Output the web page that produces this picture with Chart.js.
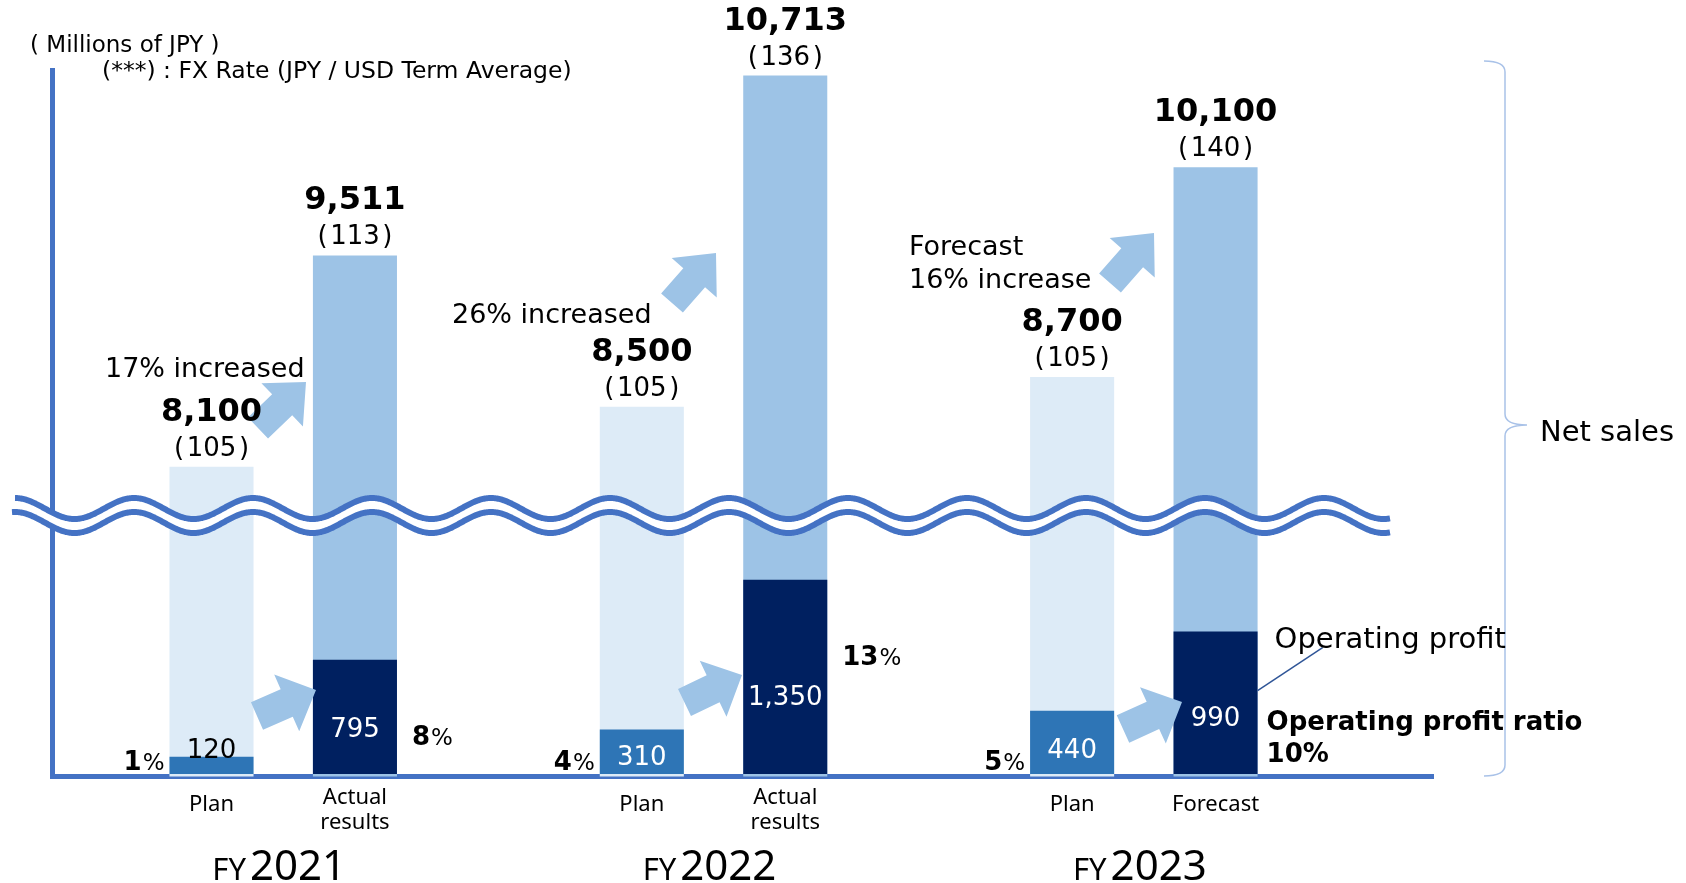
<!DOCTYPE html>
<html><head><meta charset="utf-8">
<script src="https://cdn.jsdelivr.net/npm/chart.js@4.4.1/dist/chart.umd.min.js"></script>
<style>html,body{margin:0;padding:0;background:#fff;overflow:hidden}</style>
</head><body>
<canvas id="c" width="1686" height="883"></canvas>
<script>
// ---- data ----
const fiscalYears = ['2021', '2022', '2023'];
const categories = [['Plan'], ['Actual', 'results'], ['Plan'], ['Actual', 'results'], ['Plan'], ['Forecast']];
const barYear = [0, 0, 1, 1, 2, 2];
const isPlan = [true, false, true, false, true, false];
const netSales = [8100, 9511, 8500, 10713, 8700, 10100];
const fxRate = [105, 113, 105, 136, 105, 140];
const operatingProfit = [120, 795, 310, 1350, 440, 990];
const profitRatio = [1, 8, 4, 13, 5, 10];
const growthText = [['17% increased'], ['26% increased'], ['Forecast', '16% increase']];

// ---- styles ----
const AXIS = '#4472C4';
const C_PLAN_SALES = '#DDEBF7', C_ACT_SALES = '#9DC3E6';
const C_PLAN_OP = '#2E75B6', C_ACT_OP = '#002060';
const ARROW = '#9DC3E6';
const SANS = '"DejaVu Sans", Verdana, sans-serif';
const NOTO = '"Noto Sans", sans-serif';

const xPos = netSales.map((_, i) => barYear[i] * 3 + (isPlan[i] ? 0 : 1));

function blockArrow(ctx, tx, ty, px, py, shaftW, headW, headL) {
  const dx = px - tx, dy = py - ty, L = Math.hypot(dx, dy);
  const ux = dx / L, uy = dy / L, nx = -uy, ny = ux;
  const bx = px - ux * headL, by = py - uy * headL;
  const pts = [
    [tx + nx * shaftW / 2, ty + ny * shaftW / 2],
    [bx + nx * shaftW / 2, by + ny * shaftW / 2],
    [bx + nx * headW / 2, by + ny * headW / 2],
    [px, py],
    [bx - nx * headW / 2, by - ny * headW / 2],
    [bx - nx * shaftW / 2, by - ny * shaftW / 2],
    [tx - nx * shaftW / 2, ty - ny * shaftW / 2]];
  ctx.beginPath();
  pts.forEach((p, i) => i ? ctx.lineTo(p[0], p[1]) : ctx.moveTo(p[0], p[1]));
  ctx.closePath();
  ctx.fill();
}

function wavePath(ctx, x0, x1, yc) {
  ctx.beginPath();
  for (let x = x0; x <= x1; x += 1) {
    const y = yc - 10.5 * Math.cos(2 * Math.PI * (x - 134) / 119);
    if (x === x0) ctx.moveTo(x, y); else ctx.lineTo(x, y);
  }
}

function text(ctx, s, x, y, font, color, align) {
  ctx.font = font; ctx.fillStyle = color; ctx.textAlign = align || 'center';
  ctx.textBaseline = 'alphabetic'; ctx.fillText(s, x, y);
}

function ratioLabel(ctx, n, x, y, align) {
  const f1 = 'bold 26px ' + SANS, f2 = '23px ' + SANS;
  ctx.font = f1; const w1 = ctx.measureText(String(n)).width;
  ctx.font = f2; const w2 = ctx.measureText('%').width;
  const x0 = align === 'right' ? x - w1 - w2 : x;
  text(ctx, String(n), x0, y, f1, '#000', 'left');
  text(ctx, '%', x0 + w1 + 1, y, f2, '#000', 'left');
}

const salesArrows = [[258, 428, 306, 382], [672, 303, 716, 253], [1110, 283, 1154, 233]];
const profitArrows = [[257, 716, 316, 690], [684.5, 702.5, 742, 675], [1123, 729, 1182, 702]];
const growthPos = [[105, 377], [452, 323], [909, 255]];

const decorations = {
  id: 'decorations',
  afterDraw(chart) {
    const ctx = chart.ctx, area = chart.chartArea;
    const profit = chart.getDatasetMeta(0).data, sales = chart.getDatasetMeta(1).data;
    ctx.save();
    // arrows
    ctx.fillStyle = ARROW;
    salesArrows.forEach(a => blockArrow(ctx, a[0], a[1], a[2], a[3], 29, 60, 33));
    profitArrows.forEach(a => blockArrow(ctx, a[0], a[1], a[2], a[3], 30, 62, 32));
    // axis break wave
    const yc = area.bottom - 268;
    ctx.lineCap = 'butt';
    ctx.strokeStyle = '#fff'; ctx.lineWidth = 14;
    wavePath(ctx, 13, 1390, yc + 7); ctx.stroke();
    ctx.strokeStyle = AXIS; ctx.lineWidth = 6;
    wavePath(ctx, 15, 1390, yc); ctx.stroke();
    wavePath(ctx, 12, 1390, yc + 14); ctx.stroke();
    // brace
    ctx.strokeStyle = '#A9C2E8'; ctx.lineWidth = 1.5;
    ctx.beginPath();
    ctx.moveTo(1484, 61); ctx.quadraticCurveTo(1505, 61, 1505, 72);
    ctx.lineTo(1505, 414); ctx.quadraticCurveTo(1505, 425, 1527, 425);
    ctx.quadraticCurveTo(1505, 425, 1505, 436);
    ctx.lineTo(1505, 765); ctx.quadraticCurveTo(1505, 776, 1484, 776);
    ctx.stroke();
    text(ctx, 'Net sales', 1540, 441, '29px ' + SANS, '#000', 'left');

    // header
    text(ctx, '( Millions of JPY )', 30, 52, '23px ' + SANS, '#000', 'left');
    text(ctx, '(***) : FX Rate (JPY / USD Term Average)', 102, 78, '23.5px ' + SANS, '#000', 'left');

    // per-bar labels
    sales.forEach((bar, i) => {
      const cx = bar.x, left = bar.x - bar.width / 2, right = bar.x + bar.width / 2;
      text(ctx, netSales[i].toLocaleString('en-US'), cx, bar.y - 46, 'bold 32px ' + SANS, '#000');
      text(ctx, '(\u200A' + fxRate[i] + '\u200A)', cx, bar.y - 11, '26px ' + SANS, '#000');
      const pb = profit[i], segTop = pb.y, segH = pb.base - pb.y;
      if (segH < 30) {
        text(ctx, String(operatingProfit[i]), cx, segTop + 1, '26px ' + SANS, '#000');
      } else {
        text(ctx, operatingProfit[i].toLocaleString('en-US'), cx, segTop + 0.6 * segH + 9, '26px ' + SANS, '#fff');
      }
      if (isPlan[i]) {
        ratioLabel(ctx, profitRatio[i], left - 6, pb.base - 4, 'right');
      } else if (barYear[i] < 2) {
        ratioLabel(ctx, profitRatio[i], right + 15, segTop + 85, 'left');
      } else {
        text(ctx, 'Operating profit ratio', right + 9, segTop + 98, 'bold 26px ' + SANS, '#000', 'left');
        text(ctx, profitRatio[i] + '%', right + 9, segTop + 130, 'bold 26px ' + SANS, '#000', 'left');
        ctx.strokeStyle = '#2F5597'; ctx.lineWidth = 1.5;
        ctx.beginPath(); ctx.moveTo(right, segTop + 59); ctx.lineTo(right + 65, segTop + 16); ctx.stroke();
        text(ctx, 'Operating profit', right + 17, segTop + 16, '29px ' + SANS, '#000', 'left');
      }
      // category labels
      const lines = categories[i];
      if (lines.length === 1) text(ctx, lines[0], cx, 811, '22px ' + NOTO, '#000');
      else lines.forEach((l, k) => text(ctx, l, cx, 804 + 25 * k, '22px ' + NOTO, '#000'));
    });

    // growth notes
    growthText.forEach((lines, g) => {
      lines.forEach((l, k) => text(ctx, l, growthPos[g][0], growthPos[g][1] + 33 * k, '27px ' + SANS, '#000', 'left'));
    });

    // fiscal years
    fiscalYears.forEach((fy, g) => {
      const idx = barYear.map((y, i) => y === g ? i : -1).filter(i => i >= 0);
      const gc = (sales[idx[0]].x + sales[idx[idx.length - 1]].x) / 2;
      ctx.font = '31px ' + NOTO; const w1 = ctx.measureText('FY').width;
      ctx.font = '42px ' + NOTO; const w2 = ctx.measureText(fy).width;
      const x0 = gc - (w1 + 4 + w2) / 2 - 4;
      text(ctx, 'FY', x0, 880, '31px ' + NOTO, '#000', 'left');
      text(ctx, fy, x0 + w1 + 4, 880, '42px ' + NOTO, '#000', 'left');
    });
    ctx.restore();
  }
};

new Chart(document.getElementById('c'), {
  type: 'bar',
  data: {
    datasets: [
      { label: 'Operating profit', data: operatingProfit.map((v, i) => ({x: xPos[i], y: v})),
        yAxisID: 'yProfit', backgroundColor: isPlan.map(p => p ? C_PLAN_OP : C_ACT_OP),
        grouped: false, order: 0, barPercentage: 0.586, categoryPercentage: 1 },
      { label: 'Net sales', data: netSales.map((v, i) => ({x: xPos[i], y: v})),
        yAxisID: 'ySales', backgroundColor: isPlan.map(p => p ? C_PLAN_SALES : C_ACT_SALES),
        grouped: false, order: 1, barPercentage: 0.586, categoryPercentage: 1 }
    ]
  },
  options: {
    responsive: false, animation: false, devicePixelRatio: 1,
    layout: { padding: { left: 52.5, right: 253, top: 70, bottom: 106.5 } },
    plugins: { legend: { display: false }, tooltip: { enabled: false } },
    scales: {
      x: { type: 'linear', min: -1.1086, max: 8.516, offset: false, z: 1,
           grid: { display: false, drawTicks: false, offset: false }, ticks: { display: false },
           border: { display: true, color: AXIS, width: 5 },
           afterBuildTicks: s => { s.ticks = xPos.map(v => ({ value: v })); } },
      yProfit: { type: 'linear', position: 'left', min: -17, max: 4893, z: 1,
           grid: { display: false, drawTicks: false }, ticks: { display: false },
           border: { display: true, color: AXIS, width: 5 } },
      ySales: { type: 'linear', position: 'left', display: false, min: 6031, max: 10750 }
    }
  },
  plugins: [decorations]
});
</script>
</body></html>
